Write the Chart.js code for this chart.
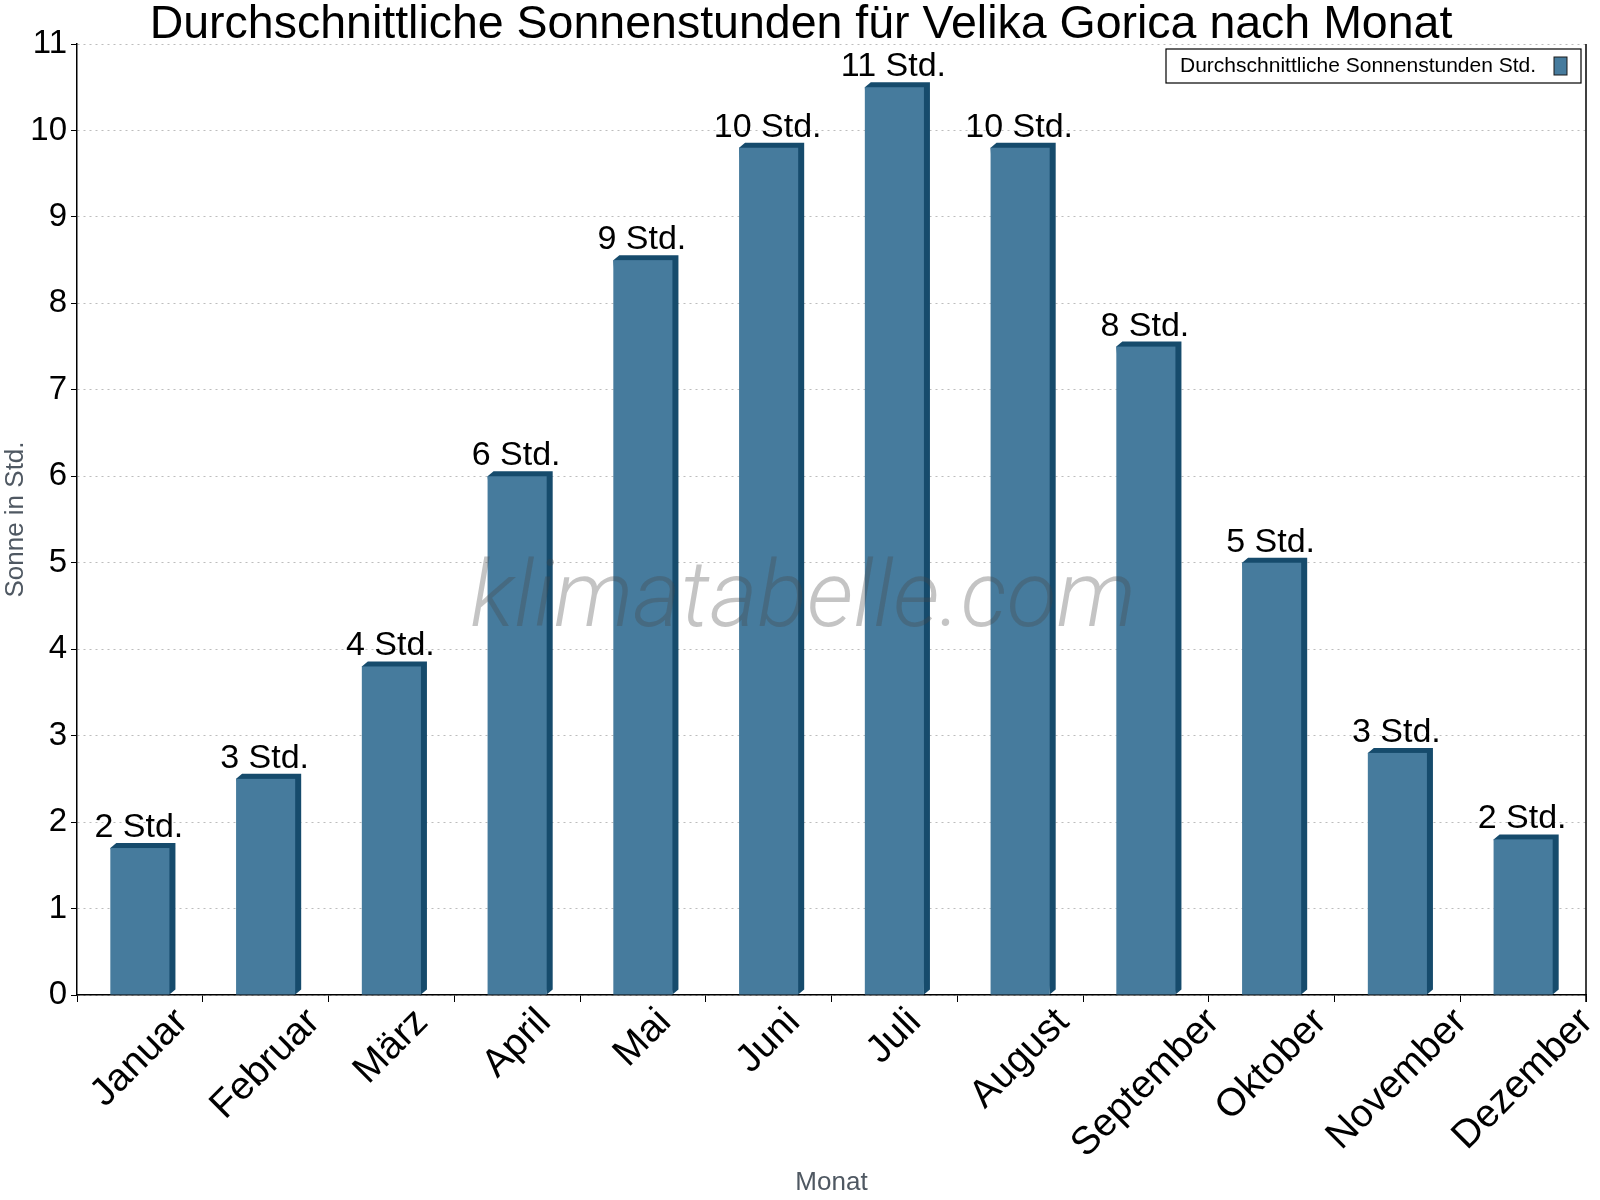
<!DOCTYPE html>
<html>
<head>
<meta charset="utf-8">
<script src="https://cdn.jsdelivr.net/npm/chart.js@4/dist/chart.umd.min.js"></script>
<style>
  html, body { margin: 0; padding: 0; background: #fff; }
  #wrap { width: 1600px; height: 1200px; }
</style>
</head>
<body>
<div id="wrap"><canvas id="sunChart" width="1600" height="1200"></canvas></div>
<script>
const months = ['Januar', 'Februar', 'März', 'April', 'Mai', 'Juni', 'Juli', 'August', 'September', 'Oktober', 'November', 'Dezember'];
const sunHours = [1.7, 2.5, 3.8, 6.0, 8.5, 9.8, 10.5, 9.8, 7.5, 5.0, 2.8, 1.8];
const yTicks = [0, 1, 2, 3, 4, 5, 6, 7, 8, 9, 10, 11];

const titleText = 'Durchschnittliche Sonnenstunden für Velika Gorica nach Monat';
const seriesLabel = 'Durchschnittliche Sonnenstunden Std.';
const FONT = "'Liberation Sans', Arial, sans-serif";
const FRONT = '#467b9d';
const SIDE = '#164b6c';

// title, 3D faces, value labels, month labels, legend box, watermark
const decor = {
  id: 'decor',
  afterDatasetsDraw(chart) {
    const ctx = chart.ctx;
    const area = chart.chartArea;
    const meta = chart.getDatasetMeta(0);
    const xScale = chart.scales.x;
    const dx = 6, dy = 5;

    ctx.save();
    meta.data.forEach((bar, i) => {
      const p = bar.getProps(['x', 'y', 'base', 'width'], true);
      const l = p.x - p.width / 2, r = p.x + p.width / 2;
      ctx.fillStyle = SIDE;
      ctx.beginPath();
      ctx.moveTo(l, p.y);
      ctx.lineTo(l + dx, p.y - dy);
      ctx.lineTo(r + dx, p.y - dy);
      ctx.lineTo(r + dx, p.base - dy);
      ctx.lineTo(r, p.base);
      ctx.closePath();
      ctx.fill();
      ctx.fillStyle = FRONT;
      ctx.fillRect(l, p.y, p.width, p.base - p.y);

      ctx.fillStyle = '#000';
      ctx.font = '34px ' + FONT;
      ctx.textAlign = 'center';
      ctx.textBaseline = 'alphabetic';
      ctx.fillText(Math.round(sunHours[i]) + ' Std.', p.x - 1, p.y - 11);
    });

    // month labels, rotated 45°, box centred under each category
    ctx.font = '39px ' + FONT;
    ctx.fillStyle = '#000';
    ctx.textAlign = 'center';
    ctx.textBaseline = 'middle';
    months.forEach((m, i) => {
      const w = ctx.measureText(m).width;
      const cx = xScale.getPixelForTick(i);
      const cy = area.bottom + 21 + w * 0.3536;
      ctx.save();
      ctx.translate(cx, cy);
      ctx.rotate(-Math.PI / 4);
      ctx.fillText(m, 0, 0);
      ctx.restore();
    });

    // right frame line
    ctx.strokeStyle = '#000';
    ctx.lineWidth = 1.5;
    ctx.beginPath();
    ctx.moveTo(area.right, area.top);
    ctx.lineTo(area.right, area.bottom + 7);
    ctx.stroke();

    // legend
    ctx.font = '21px ' + FONT;
    ctx.fillStyle = '#fff';
    ctx.fillRect(1166, 49, 415, 34);
    ctx.strokeStyle = '#000';
    ctx.lineWidth = 1.2;
    ctx.strokeRect(1166, 49, 415, 34);
    ctx.fillStyle = '#000';
    ctx.textAlign = 'left';
    ctx.textBaseline = 'middle';
    ctx.fillText(seriesLabel, 1180, 66);
    ctx.fillStyle = FRONT;
    ctx.fillRect(1554, 57, 13, 18);
    ctx.strokeStyle = '#1a1a1a';
    ctx.lineWidth = 1;
    ctx.strokeRect(1554, 57, 13, 18);

    // watermark
    ctx.font = "italic 300 92px Roboto, 'Open Sans', sans-serif";
    ctx.fillStyle = 'rgba(70, 70, 70, 0.32)';
    ctx.textAlign = 'center';
    ctx.textBaseline = 'alphabetic';
    ctx.fillText('klimatabelle.com', 803, 626);

    // title
    ctx.font = '46.5px ' + FONT;
    ctx.fillStyle = '#000';
    ctx.fillText(titleText, 801, 38);
    ctx.restore();
  }
};

new Chart(document.getElementById('sunChart'), {
  type: 'bar',
  data: {
    labels: months,
    datasets: [{
      label: seriesLabel,
      data: sunHours,
      backgroundColor: 'rgba(0,0,0,0)',
      borderWidth: 0,
      barPercentage: 0.47,
      categoryPercentage: 1,
    }],
  },
  options: {
    responsive: false,
    animation: false,
    layout: { padding: { top: 44, right: 14, left: 0, bottom: 0 } },
    plugins: {
      legend: { display: false },
      title: { display: false },
      tooltip: { enabled: false },
    },
    scales: {
      x: {
        afterFit: s => { s.height = 205; },
        grid: { display: true, drawOnChartArea: false, offset: true, color: '#000', tickLength: 7 },
        border: { display: true, color: '#000', width: 1.5 },
        ticks: { display: false },
        title: {
          display: true,
          text: 'Monat',
          color: '#4f5862',
          font: { size: 26, family: FONT },
          padding: { top: 0, bottom: 2 },
        },
      },
      y: {
        min: 0,
        max: 11,
        afterFit: s => { s.width = 77; },
        afterBuildTicks: s => { s.ticks = yTicks.map(v => ({ value: v })); },
        grid: { color: '#bdbdbd', tickColor: '#000', tickLength: 6 },
        border: { display: true, color: '#000', width: 1.5, dash: [2, 4] },
        ticks: {
          color: '#000',
          font: { size: 33, family: FONT },
          padding: 4,
        },
        title: {
          display: true,
          text: 'Sonne in Std.',
          color: '#4f5862',
          font: { size: 26, family: FONT },
          padding: 0,
        },
      },
    },
  },
  plugins: [decor],
});
</script>
</body>
</html>
